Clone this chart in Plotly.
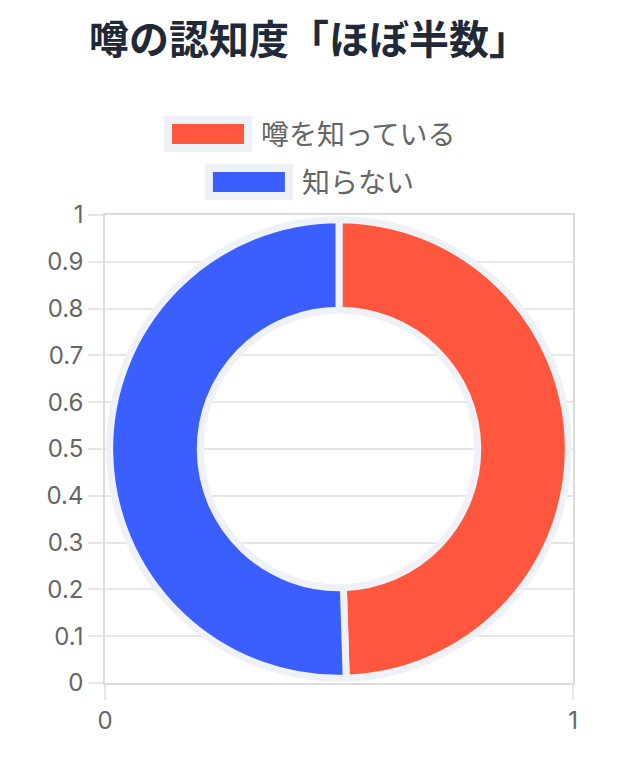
import plotly.graph_objects as go

# data
labels = ["噂を知っている", "知らない"]
values = [49.5, 50.5]
colors = ["#ff573d", "#3a5eff"]
title_text = "噂の認知度「ほぼ半数」"
y_ticks = [0, 0.1, 0.2, 0.3, 0.4, 0.5, 0.6, 0.7, 0.8, 0.9, 1]
y_ticktext = ["0", "0.1", "0.2", "0.3", "0.4", "0.5", "0.6", "0.7", "0.8", "0.9", "1"]
x_ticks = [0, 1]
x_ticktext = ["0", "1"]

W, H = 618, 766
OFF = 8                               # page body margin
L, R, T, B = 105 - OFF, 573 - OFF, 215 - OFF, 683 - OFF   # plot area in figure pixels
ring = "#eef2f7"
grey = "#666666"
jp = "Noto Sans CJK JP"


def px_x(px):
    return (px - L) / (R - L)


def px_y(py):
    return (B - py) / (B - T)


fig = go.Figure()

# empty scatter so the cartesian grid is drawn behind the donut
fig.add_trace(go.Scatter(x=[], y=[], showlegend=False, hoverinfo="skip"))

fig.add_trace(go.Pie(
    labels=labels,
    values=values,
    sort=False,
    direction="clockwise",
    rotation=0,
    hole=0.605,
    textinfo="none",
    showlegend=False,
    marker=dict(colors=colors, line=dict(color=ring, width=7)),
    domain=dict(x=[0.01, 0.99], y=[0.01, 0.99]),
))

# legend drawn by hand (wide boxes with a light border)
fs = 28
box_w, box_h, inner_w, inner_h, gap = 88, 36, 72, 20, 11
cx = 309 - OFF
row_y = [134 - OFF, 182 - OFF]
shapes = []
annotations = []
for lab, col, cy in zip(labels, colors, row_y):
    total = box_w + gap + 27.3 * len(lab)
    x0 = cx - total / 2
    shapes.append(dict(type="rect", xref="paper", yref="paper",
                       x0=px_x(x0), x1=px_x(x0 + box_w),
                       y0=px_y(cy + box_h / 2), y1=px_y(cy - box_h / 2),
                       fillcolor=ring, line=dict(width=0), layer="above"))
    ix = x0 + (box_w - inner_w) / 2
    shapes.append(dict(type="rect", xref="paper", yref="paper",
                       x0=px_x(ix), x1=px_x(ix + inner_w),
                       y0=px_y(cy + inner_h / 2), y1=px_y(cy - inner_h / 2),
                       fillcolor=col, line=dict(width=0), layer="above"))
    annotations.append(dict(text=lab, xref="paper", yref="paper",
                            x=px_x(x0 + box_w + gap - 4), y=px_y(cy - 1),
                            xanchor="left", yanchor="middle", showarrow=False,
                            font=dict(family=jp, size=fs, color=grey)))

axis_font = dict(family="Inter, Liberation Sans, sans-serif", size=24, color=grey)

fig.update_layout(
    width=W, height=H,
    margin=dict(l=L, r=W - R, t=T, b=H - B),
    paper_bgcolor="white",
    plot_bgcolor="white",
    title=dict(text=title_text, x=0.5 - OFF / W, xref="container",
               xanchor="center",
               y=1 - (40 - OFF) / H, yref="container", yanchor="middle",
               font=dict(family=jp, size=40, color="#1f2937", weight="bold")),
    xaxis=dict(range=[0, 1], tickvals=x_ticks, ticktext=x_ticktext,
               showgrid=True, gridcolor="#e6e6e6", gridwidth=1.5,
               zeroline=False, showline=True, mirror=True,
               linecolor="#dcdcdc", linewidth=1.5,
               ticks="outside", ticklen=15, tickcolor="#e6e6e6", tickwidth=1.5,
               tickfont=axis_font, fixedrange=True),
    yaxis=dict(range=[0, 1], tickvals=y_ticks, ticktext=y_ticktext,
               showgrid=True, gridcolor="#e6e6e6", gridwidth=1.5,
               zeroline=False, showline=True, mirror=True,
               linecolor="#dcdcdc", linewidth=1.5,
               ticks="outside", ticklen=15, tickcolor="#e6e6e6", tickwidth=1.5,
               tickfont=axis_font, fixedrange=True),
    shapes=shapes,
    annotations=annotations,
)

fig.write_html("out.html")
